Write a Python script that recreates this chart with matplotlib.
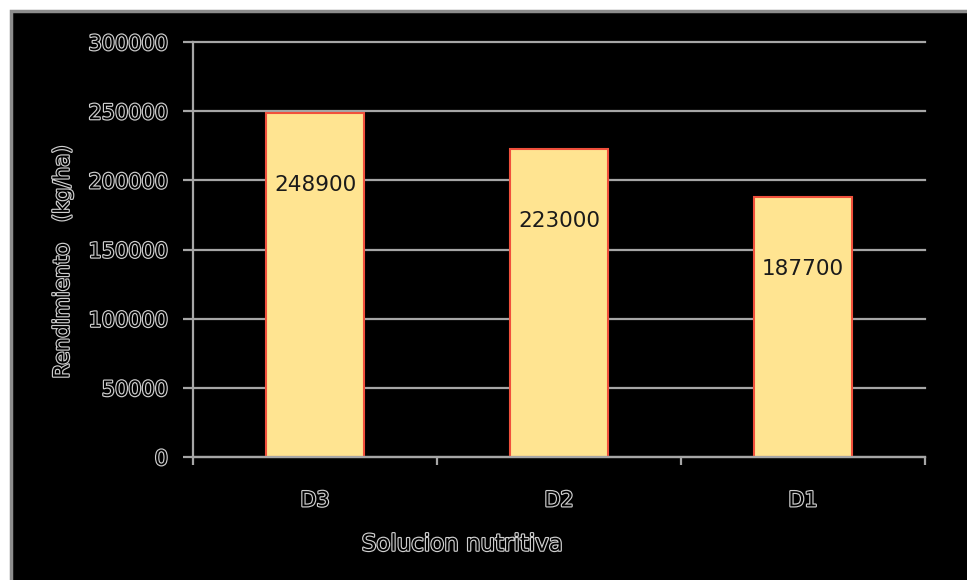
import matplotlib.pyplot as plt
import matplotlib.patheffects as pe
from matplotlib.patches import Rectangle

# data
categorias = ['D3', 'D2', 'D1']
rendimiento = [248900, 223000, 187700]
yticks = [0, 50000, 100000, 150000, 200000, 250000, 300000]

outline = [pe.withStroke(linewidth=1.7, foreground='#cfcfcf')]
gris = '#a6a6a6'

fig = plt.figure(figsize=(9.67, 5.8), dpi=100)
fig.patch.set_facecolor('white')
# black chart area with grey border
fig.patches.append(Rectangle((11/967, -0.05), 1.1, 1 - 11/580 + 0.05,
                             transform=fig.transFigure, facecolor='black',
                             edgecolor='#8c8c8c', linewidth=2.5, zorder=-10))

ax = fig.add_axes([193/967, 1 - 457/580, 732/967, 415/580])
ax.set_facecolor('black')

x = range(len(categorias))
ax.bar(x, rendimiento, width=0.4, color='#ffe491', edgecolor='#f0503c',
       linewidth=1.5, zorder=2)

for xi, v in zip(x, rendimiento):
    ax.annotate(str(v), (xi, v), xytext=(0, -72), textcoords='offset pixels',
                ha='center', va='center', fontsize=15.5, color='#1a1a1a', zorder=4)

ax.set_xlim(-0.5, 2.5)
ax.set_ylim(0, 300000)
ax.set_yticks(yticks)
ax.set_yticklabels([str(t) for t in yticks])
ax.yaxis.grid(True, color=gris, linewidth=1.6, zorder=1)
ax.set_axisbelow(True)
for gl in ax.get_ygridlines():
    gl.set_clip_on(False)

ax.set_xticks([-0.5, 0.5, 1.5, 2.5])
ax.set_xticklabels([])
ax.set_xticks(list(x), minor=True)
ax.set_xticklabels(categorias, minor=True)
ax.tick_params(axis='x', which='major', length=6, width=1.6, color=gris, direction='out')
ax.tick_params(axis='x', which='minor', length=0, pad=24)
ax.tick_params(axis='y', length=7, width=1.6, color=gris, direction='out', pad=11)

for sp in ['top', 'right']:
    ax.spines[sp].set_visible(False)
for sp in ['left', 'bottom']:
    ax.spines[sp].set_color(gris)
    ax.spines[sp].set_linewidth(1.6)

for lab in ax.get_yticklabels() + ax.get_xticklabels(minor=True):
    lab.set_fontsize(15)
    lab.set_color('black')
    lab.set_path_effects(outline)

ax.set_xlabel('Solucion nutritiva', fontsize=16.5, color='black',
              path_effects=outline, va='center')
ax.xaxis.set_label_coords(0.3675, -0.21)
ax.set_ylabel('Rendimiento   (kg/ha)', fontsize=15.5, color='black',
              path_effects=outline, va='center')
ax.yaxis.set_label_coords(-0.178, 0.47)

fig.savefig('out.png', dpi=100, facecolor=fig.get_facecolor())
